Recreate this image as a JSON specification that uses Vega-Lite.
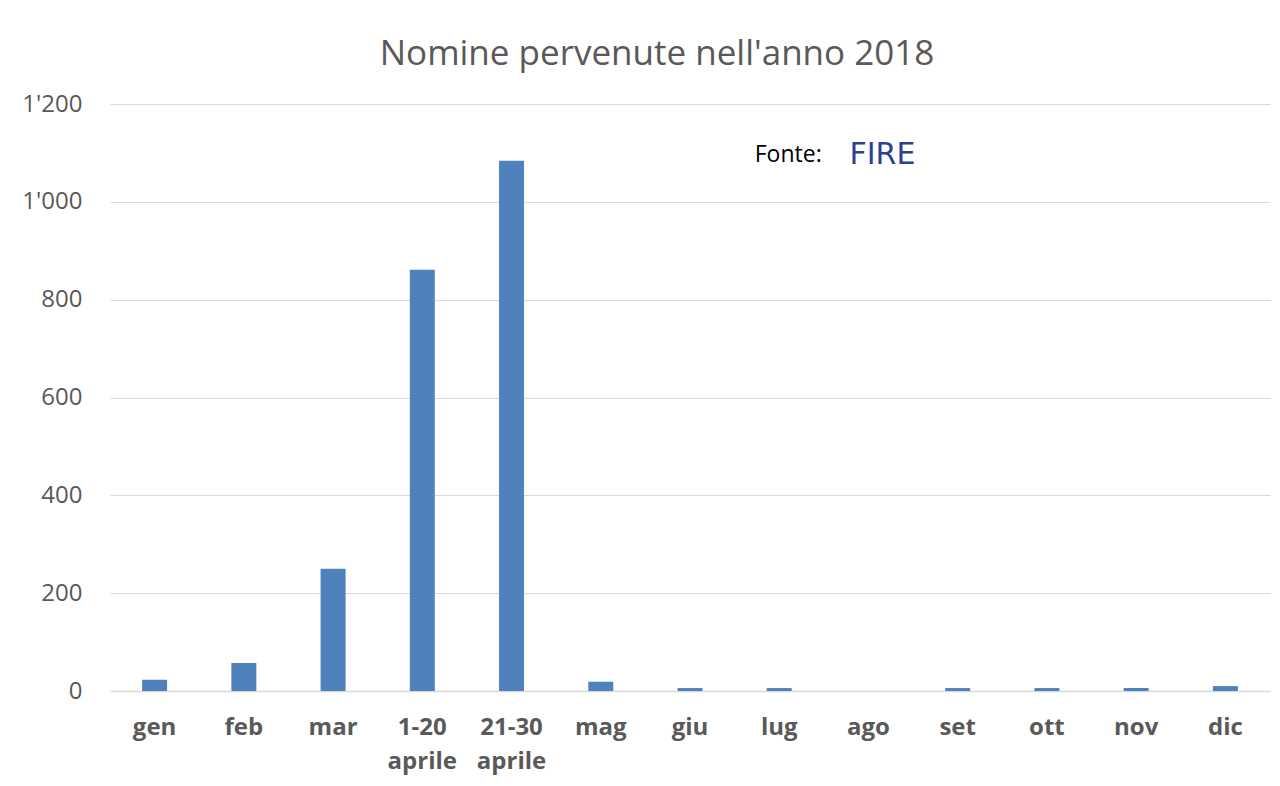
{
  "$schema": "https://vega.github.io/schema/vega-lite/v6.json",
  "width": 1160,
  "height": 587,
  "autosize": {"type": "none"},
  "padding": {"left": 110, "top": 104, "right": 10, "bottom": 95},
  "background": "white",
  "title": {
    "text": "Nomine pervenute nell'anno 2018",
    "font": "Open Sans",
    "fontSize": 35,
    "fontWeight": "normal",
    "color": "#595959",
    "anchor": "middle",
    "offset": 20,
    "dx": -33
  },
  "config": {
    "view": {"stroke": null},
    "font": "Open Sans"
  },
  "layer": [
    {
      "data": {
        "values": [
          {"mese": "gen", "nomine": 23},
          {"mese": "feb", "nomine": 57},
          {"mese": "mar", "nomine": 250},
          {"mese": "1-20 aprile", "nomine": 861},
          {"mese": "21-30 aprile", "nomine": 1084},
          {"mese": "mag", "nomine": 19},
          {"mese": "giu", "nomine": 6},
          {"mese": "lug", "nomine": 6},
          {"mese": "ago", "nomine": 0},
          {"mese": "set", "nomine": 6},
          {"mese": "ott", "nomine": 6},
          {"mese": "nov", "nomine": 6},
          {"mese": "dic", "nomine": 10}
        ]
      },
      "mark": {"type": "bar", "color": "#4f81bd"},
      "encoding": {
        "x": {
          "field": "mese",
          "type": "nominal",
          "sort": null,
          "scale": {"paddingInner": 0.72, "paddingOuter": 0.36},
          "axis": {
            "title": null,
            "labelAngle": 0,
            "labelExpr": "split(datum.value, ' ')",
            "labelFont": "Open Sans",
            "labelFontSize": 24,
            "labelFontWeight": "bold",
            "labelColor": "#595959",
            "labelPadding": 24,
            "labelLineHeight": 34,
            "ticks": false,
            "domainColor": "#d9d9d9",
            "domainWidth": 1.5
          }
        },
        "y": {
          "field": "nomine",
          "type": "quantitative",
          "scale": {"domain": [0, 1200]},
          "axis": {
            "title": null,
            "values": [0, 200, 400, 600, 800, 1000, 1200],
            "labelExpr": "replace(format(datum.value, ','), ',', \"'\")",
            "labelFont": "Open Sans",
            "labelFontSize": 24,
            "labelColor": "#595959",
            "labelPadding": 28,
            "ticks": false,
            "domain": false,
            "gridColor": "#d9d9d9",
            "gridWidth": 1
          }
        }
      }
    },
    {
      "data": {"values": [{"mese": "lug", "y": 1095, "t": "Fonte:"}]},
      "mark": {"type": "text", "font": "Open Sans", "fontSize": 23, "color": "#000000", "dx": 9, "align": "center", "baseline": "middle"},
      "encoding": {
        "x": {"field": "mese", "type": "nominal", "sort": null},
        "y": {"field": "y", "type": "quantitative"},
        "text": {"field": "t"}
      }
    },
    {
      "data": {"values": [{"mese": "ago", "y": 1095, "t": "FIRE"}]},
      "mark": {"type": "text", "font": "DejaVu Sans", "fontSize": 30, "fontWeight": "normal", "color": "#2e3f96", "dx": 14, "align": "center", "baseline": "middle"},
      "encoding": {
        "x": {"field": "mese", "type": "nominal", "sort": null},
        "y": {"field": "y", "type": "quantitative"},
        "text": {"field": "t"}
      }
    }
  ]
}
